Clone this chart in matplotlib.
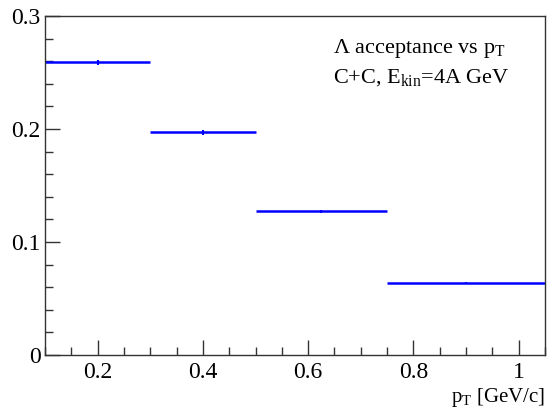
import matplotlib
matplotlib.use("Agg")
import matplotlib.pyplot as plt
import numpy as np
from matplotlib.ticker import MultipleLocator

plt.rcParams['font.family'] = ['Liberation Serif', 'DejaVu Serif']
plt.rcParams['mathtext.fontset'] = 'custom'
plt.rcParams['mathtext.rm'] = 'Liberation Serif'
plt.rcParams['mathtext.it'] = 'Liberation Serif:italic'

# pT bins and acceptance
bin_edges = [0.1, 0.3, 0.5, 0.75, 1.05]
acceptance = [0.259, 0.197, 0.127, 0.064]
acc_err = [0.0025, 0.002, 0.0015, 0.001]

fig = plt.figure(figsize=(5.56, 4.16), dpi=100)
ax = fig.add_axes([45/556, 1 - 355/416, 500/556, 339/416])

edges = np.array(bin_edges)
centers = 0.5 * (edges[:-1] + edges[1:])
ax.hlines(acceptance, edges[:-1], edges[1:], colors='#0000ff', lw=1.8)
ax.errorbar(centers, acceptance, yerr=acc_err, fmt='none', ecolor='#0000ff', lw=1.5)

ax.set_xlim(0.1, 1.05)
ax.set_ylim(0, 0.3)
ax.xaxis.set_major_locator(MultipleLocator(0.2))
ax.xaxis.set_minor_locator(MultipleLocator(0.05))
ax.yaxis.set_major_locator(MultipleLocator(0.1))
ax.yaxis.set_minor_locator(MultipleLocator(0.02))
ax.tick_params(which='both', direction='in', top=False, right=False, width=1, color='#333333', labelsize=17)
ax.tick_params(which='major', length=11)
ax.tick_params(which='minor', length=5.5)
ax.tick_params(axis='x', pad=5)
ax.tick_params(axis='y', pad=3)
ax.set_yticks([0, 0.1, 0.2, 0.3])
ax.set_yticklabels(['0', '0.1', '0.2', '0.3'])
ax.set_xticks([0.2, 0.4, 0.6, 0.8, 1.0])
ax.set_xticklabels(['0.2', '0.4', '0.6', '0.8', '1'])
for s in ax.spines.values():
    s.set_color('#333333')
    s.set_linewidth(1)

ax.set_xlabel(r'p$_{\rm T}$ [GeV/c]', fontsize=15, loc='right', labelpad=2)

ax.text(0.576, 0.89, r'$\Lambda$ acceptance vs p$_{\rm T}$', transform=ax.transAxes, fontsize=16)
ax.text(0.576, 0.805, r'C+C, E$_{\rm kin}$=4A GeV', transform=ax.transAxes, fontsize=16)

fig.savefig('out.png', dpi=100)
